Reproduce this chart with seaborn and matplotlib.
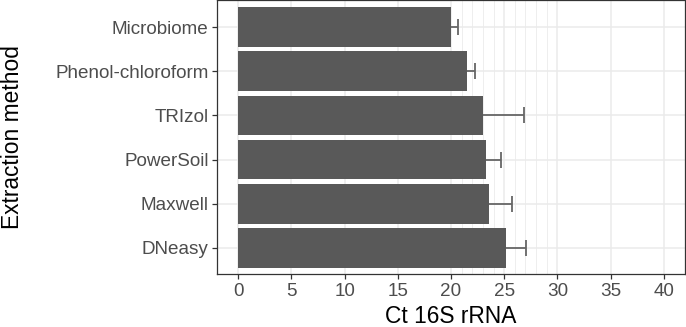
import numpy as np
import pandas as pd
import seaborn as sns
import matplotlib.pyplot as plt
from matplotlib.ticker import FixedLocator, MultipleLocator

# values
methods = ["Microbiome", "Phenol-chloroform", "TRIzol", "PowerSoil", "Maxwell", "DNeasy"]
ct_mean = [20.0, 21.5, 23.0, 23.3, 23.6, 25.2]
ct_sd = [0.7, 0.8, 3.9, 1.4, 2.1, 1.9]

df = pd.DataFrame({"method": methods, "ct": ct_mean, "sd": ct_sd})

sns.set_theme(style="white")
plt.rcParams["font.family"] = ["Liberation Sans", "DejaVu Sans"]

fig = plt.figure(figsize=(6.86, 3.27), dpi=100)
ax = fig.add_axes([0.3163, 0.1606, 0.9985 - 0.3163, 0.9985 - 0.1606])

sns.barplot(data=df, x="ct", y="method", order=methods, orient="h",
            color="#595959", saturation=1, width=0.9, errorbar=None,
            ax=ax, zorder=3)
for p in ax.patches:
    p.set_edgecolor("none")

ypos = np.arange(len(methods))
ax.errorbar(df["ct"], ypos, xerr=df["sd"], fmt="none", ecolor="#666666",
            elinewidth=1.3, capsize=6, capthick=1.3, zorder=2)

ax.set_xlim(-2, 42)
ax.set_ylim(len(methods) - 0.4, -0.6)
ax.xaxis.set_major_locator(MultipleLocator(5))
ax.xaxis.set_minor_locator(FixedLocator(np.arange(21, 30)))

ax.grid(True, which="major", color="#EBEBEB", linewidth=1.1, zorder=0)
ax.grid(True, which="minor", axis="x", color="#EBEBEB", linewidth=0.6, zorder=0)
ax.set_axisbelow(True)

for s in ax.spines.values():
    s.set_color("#333333")
    s.set_linewidth(0.9)

ax.tick_params(axis="both", which="major", length=3.5, width=0.9, color="#333333",
               labelsize=13.6, labelcolor="#4D4D4D", pad=2.5, bottom=True, left=True)
ax.tick_params(axis="x", which="minor", length=0)

ax.set_xlabel("Ct 16S rRNA", fontsize=16.4, color="black", labelpad=4)
ax.set_ylabel("Extraction method", fontsize=16.4, color="black")
ax.yaxis.set_label_coords(-0.413, 0.5)

fig.savefig("out.png", dpi=100)
